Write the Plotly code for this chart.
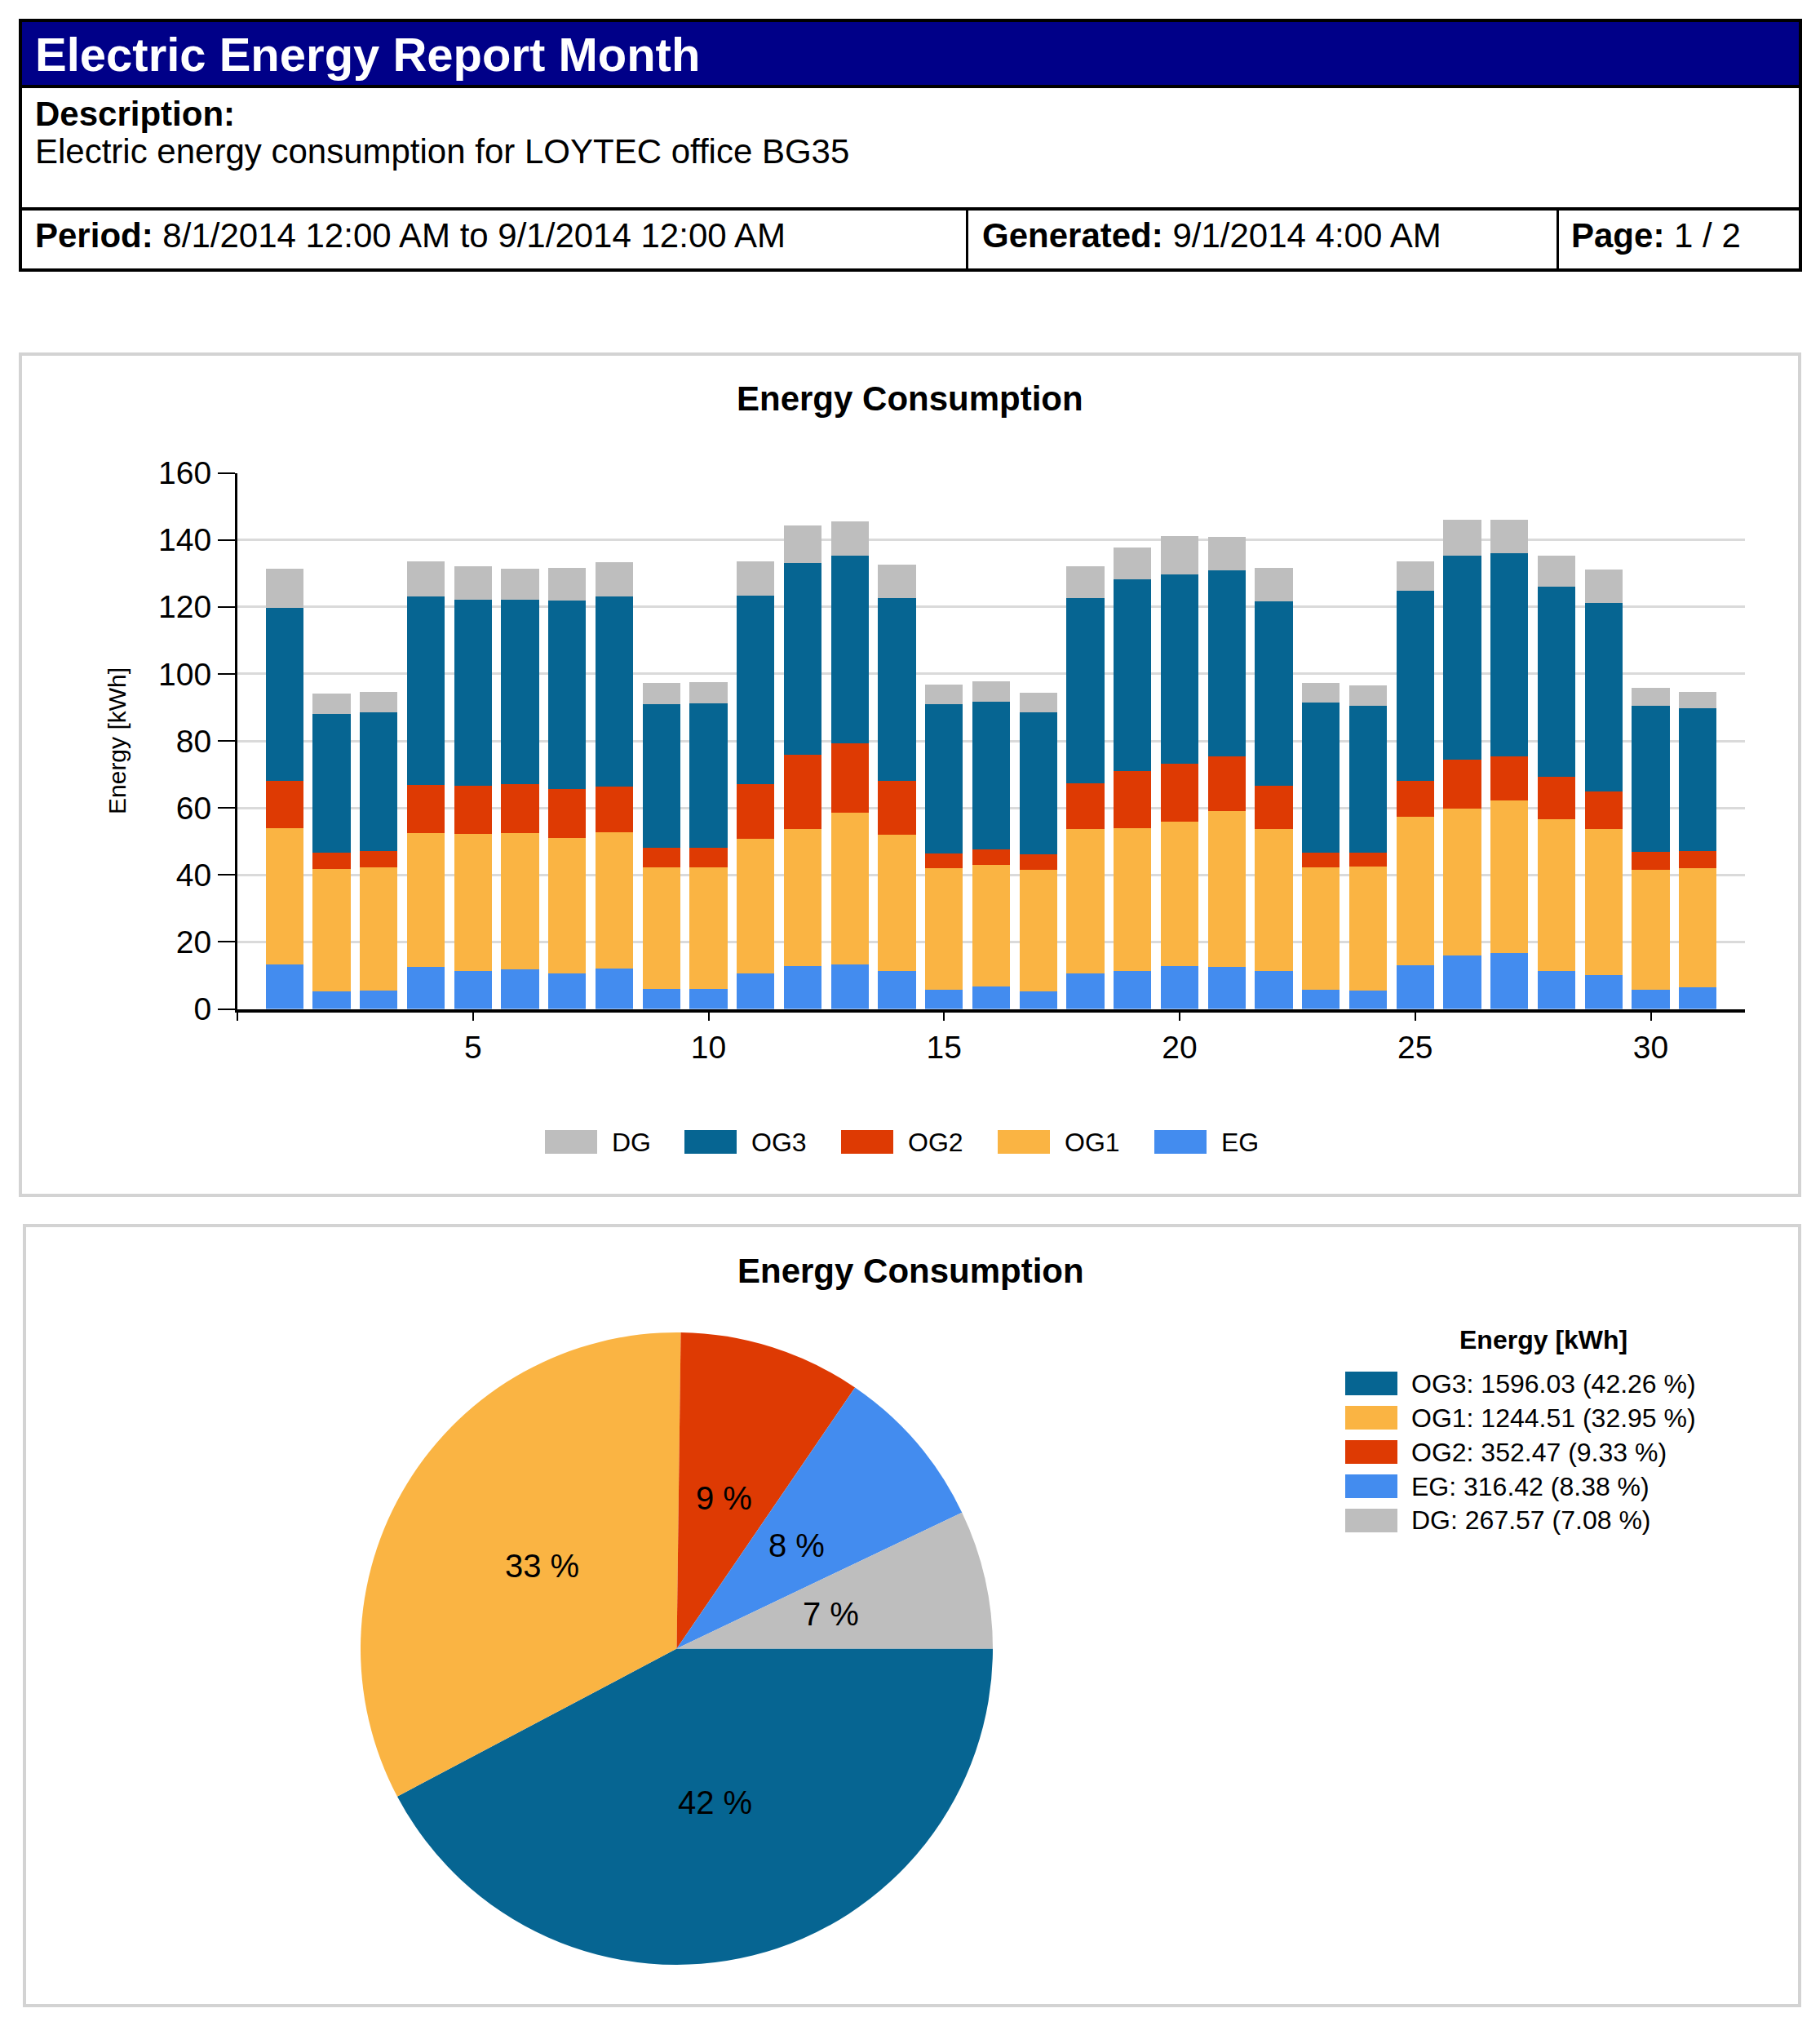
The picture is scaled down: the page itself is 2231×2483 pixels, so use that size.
import math
import plotly.graph_objects as go

W, H = 2231, 2483
FONT = "Liberation Sans, Arial, sans-serif"

# ---------------- data ----------------
days = list(range(1, 32))
series_names = ["EG", "OG1", "OG2", "OG3", "DG"]  # stacking order bottom -> top
EG = [13.4, 5.3, 5.6, 12.5, 11.4, 11.9, 10.7, 12.2, 6.1, 6.1, 10.5, 12.7, 13.4, 11.4, 5.8, 6.6,
      5.3, 10.7, 11.3, 12.9, 12.5, 11.4, 5.8, 5.6, 13.1, 16.0, 16.8, 11.3, 10.2, 5.8, 6.4]
OG1 = [40.5, 36.4, 36.7, 40.0, 40.8, 40.6, 40.3, 40.5, 36.2, 36.2, 40.2, 41.1, 45.2, 40.7, 36.2, 36.3,
       36.2, 43.1, 42.6, 43.0, 46.6, 42.4, 36.5, 36.9, 44.3, 43.9, 45.5, 45.4, 43.6, 35.7, 35.6]
OG2 = [14.1, 4.9, 4.9, 14.4, 14.3, 14.7, 14.7, 13.6, 5.7, 5.7, 16.5, 22.1, 20.8, 15.9, 4.4, 4.8,
       4.6, 13.6, 17.1, 17.4, 16.2, 12.7, 4.3, 4.1, 10.6, 14.6, 13.0, 12.5, 11.1, 5.4, 5.2]
OG3 = [51.8, 41.4, 41.3, 56.1, 55.7, 55.0, 56.2, 56.7, 42.9, 43.2, 56.2, 57.3, 56.0, 54.7, 44.5, 43.9,
       42.5, 55.3, 57.3, 56.4, 55.5, 55.1, 44.8, 44.0, 56.7, 60.9, 60.8, 56.9, 56.3, 43.7, 42.5]
DG = [11.6, 6.1, 6.1, 10.7, 9.8, 9.2, 9.8, 10.4, 6.4, 6.3, 10.3, 11.0, 10.0, 9.9, 5.8, 6.2,
      5.7, 9.5, 9.5, 11.5, 10.2, 10.1, 5.9, 5.9, 9.0, 10.7, 10.0, 9.1, 10.0, 5.2, 5.0]
series_values = [EG, OG1, OG2, OG3, DG]

colors = {"EG": "#438CEF", "OG1": "#FAB443", "OG2": "#DE3A03", "OG3": "#066592", "DG": "#BEBEBE"}

x_tick_vals = [0, 5, 10, 15, 20, 25, 30]
x_tick_text = ["", "5", "10", "15", "20", "25", "30"]
bar_legend_order = ["DG", "OG3", "OG2", "OG1", "EG"]

pie_names = ["OG3", "OG1", "OG2", "EG", "DG"]
pie_values = [1596.03, 1244.51, 352.47, 316.42, 267.57]

# ---------------- helpers ----------------
def px(x):
    return x / W

def py(y):
    return 1 - y / H

shapes = []
annotations = []

def rect(x0, y0, x1, y1, fill=None, lc=None, lw=0):
    shapes.append(dict(type="rect", xref="paper", yref="paper", x0=px(x0), x1=px(x1),
                       y0=py(y1), y1=py(y0), fillcolor=fill if fill else "rgba(0,0,0,0)",
                       line=dict(color=lc if lc else "rgba(0,0,0,0)", width=lw), layer="above"))

def line(x0, y0, x1, y1, color="black", lw=4):
    shapes.append(dict(type="line", xref="paper", yref="paper", x0=px(x0), x1=px(x1),
                       y0=py(y0), y1=py(y1), line=dict(color=color, width=lw), layer="above"))

def text(x, y, s, size, color="black", xanchor="left", angle=0):
    annotations.append(dict(xref="paper", yref="paper", x=px(x), y=py(y), text=s, showarrow=False,
                            xanchor=xanchor, yanchor="middle", textangle=angle, borderpad=0,
                            font=dict(family=FONT, size=size, color=color)))

# ---------------- header ----------------
rect(25, 25, 2207, 106, fill="#000088")
rect(25, 25, 2207, 331, lc="black", lw=4)
line(25, 106, 2207, 106, lw=4)
line(25, 256, 2207, 256, lw=4)
line(1185.5, 256, 1185.5, 331, lw=3)
line(1909.5, 256, 1909.5, 331, lw=3)
text(42, 66, "<b>Electric Energy Report Month</b>", 58, color="white")
text(42, 139, "<b>Description:</b>", 42)
text(42, 185, "Electric energy consumption for LOYTEC office BG35", 42)
text(42, 288, "<b>Period:</b> 8/1/2014 12:00 AM to 9/1/2014 12:00 AM", 42)
text(1203, 288, "<b>Generated:</b> 9/1/2014 4:00 AM", 42)
text(1925, 288, "<b>Page:</b> 1 / 2", 42)

# ---------------- panels ----------------
rect(25, 434, 2206, 1465, lc="#D3D3D3", lw=4)
rect(30, 1502, 2206, 2458, lc="#D3D3D3", lw=4)
text(1115, 489, "<b>Energy Consumption</b>", 42, xanchor="center")
text(1116, 1557, "<b>Energy Consumption</b>", 42, xanchor="center")
text(144, 908, "Energy [kWh]", 30, xanchor="center", angle=-90)

# ---------------- bar chart ----------------
fig = go.Figure()
for name, vals in zip(series_names, series_values):
    fig.add_trace(go.Bar(x=days, y=vals, name=name, width=0.8,
                         marker=dict(color=colors[name], line=dict(width=0)),
                         showlegend=False, xaxis="x", yaxis="y"))

# custom legend for bars (swatch left edges, page px)
leg_swatch_x = [668, 839, 1031, 1223, 1415]
for sx, name in zip(leg_swatch_x, bar_legend_order):
    rect(sx, 1385, sx + 64, 1414, fill=colors[name])
    text(sx + 81, 1400, name, 32)

# ---------------- pie ----------------
pcx, pcy, pr = 829.5, 2020.5, 387.5
fig.add_trace(go.Pie(values=pie_values, labels=pie_names, sort=False, direction="clockwise",
                     rotation=90, textinfo="none", showlegend=False,
                     marker=dict(colors=[colors[n] for n in pie_names], line=dict(width=0)),
                     domain=dict(x=[px(pcx - pr), px(pcx + pr)], y=[py(pcy + pr), py(pcy - pr)])))

total = sum(pie_values)
cum = 0.0
for name, v in zip(pie_names, pie_values):
    frac = v / total
    theta = -2 * math.pi * (cum + frac / 2)
    cum += frac
    lx = pcx + 0.5 * pr * math.cos(theta)
    ly = pcy - 0.5 * pr * math.sin(theta)
    text(lx, ly, f"{round(100 * frac)} %", 40, xanchor="center")

# custom pie legend
text(1892, 1642, "<b>Energy [kWh]</b>", 32, xanchor="center")
for i, (name, v) in enumerate(zip(pie_names, pie_values)):
    cy = 1695.5 + i * 42
    rect(1649, cy - 14.5, 1713, cy + 14.5, fill=colors[name])
    text(1729, cy, f"{name}: {v:.2f} ({100 * v / total:.2f} %)", 32)

fig.update_layout(
    width=W, height=H, margin=dict(l=0, r=0, t=0, b=0, pad=0, autoexpand=False), autosize=False,
    paper_bgcolor="white", plot_bgcolor="white", barmode="stack", showlegend=False,
    font=dict(family=FONT, color="black"),
    xaxis=dict(domain=[px(291), px(2139)], range=[0, 32], tickvals=x_tick_vals, ticktext=x_tick_text,
               ticks="outside", ticklen=10, tickwidth=1.5, tickcolor="black", automargin=False,
               showline=True, linecolor="black", linewidth=4, showgrid=False, zeroline=False,
               tickfont=dict(size=39, family=FONT, color="black"), anchor="y"),
    yaxis=dict(domain=[py(1236.6), py(579.5)], range=[0, 160], dtick=20, automargin=False,
               ticks="outside", ticklen=21, tickwidth=1.5, tickcolor="black",
               showline=True, linecolor="black", linewidth=3, showgrid=True,
               gridcolor="#DADADA", gridwidth=3, zeroline=False,
               tickfont=dict(size=39, family=FONT, color="black"), anchor="x"),
    shapes=shapes, annotations=annotations,
)

fig.write_html("out.html", include_plotlyjs=True, config={"displayModeBar": False},
               post_script="document.body.style.margin='0';document.body.style.overflow='hidden';")
